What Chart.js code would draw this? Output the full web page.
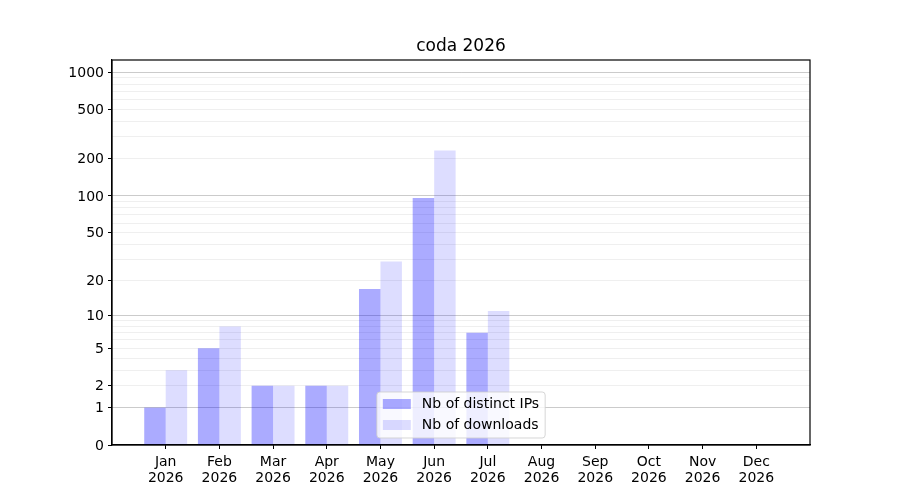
<!DOCTYPE html>
<html>
<head>
<meta charset="utf-8">
<title>coda 2026</title>
<script src="https://cdn.jsdelivr.net/npm/chart.js@4.4.1/dist/chart.umd.min.js"></script>
<style>
    html, body { margin: 0; padding: 0; background: #fff; }
    #wrap { width: 900px; height: 500px; }
</style>
</head>
<body>
<div id="wrap"><canvas id="chart"></canvas></div>
<script>
'use strict';

// Data
const months = ['Jan', 'Feb', 'Mar', 'Apr', 'May', 'Jun', 'Jul', 'Aug', 'Sep', 'Oct', 'Nov', 'Dec'];
const year = '2026';
const distinctIPs = [1, 5, 2, 2, 17, 96, 7, 0, 0, 0, 0, 0];
const downloads = [3, 8, 2, 2, 29, 233, 11, 0, 0, 0, 0, 0];
const yTickLabels = [0, 1, 2, 5, 10, 20, 50, 100, 200, 500, 1000];
const yMajorGrid = [1, 10, 100, 1000];
const yMinorGrid = [2, 3, 4, 5, 6, 7, 8, 9, 20, 30, 40, 50, 60, 70, 80, 90, 200, 300, 400, 500, 600, 700, 800, 900];
const yTopValue = 1252;
const titleText = 'coda 2026';

// y axis is log10(1 + v)
const tf = v => Math.log10(1 + v);

const allYTicks = Array.from(new Set([0].concat(yTickLabels, yMajorGrid, yMinorGrid))).sort((a, b) => a - b);

function toPoints(arr) {
    return arr.map((v, i) => ({ x: i, y: tf(v), raw: v }));
}

const font = "'DejaVu Sans', sans-serif";

// title over the plot area, frame round it and a matplotlib-like legend at lower center
const framePlugin = {
    id: 'frame',
    afterDraw(chart) {
        const ctx = chart.ctx;
        const a = chart.chartArea;
        ctx.save();

        // title
        ctx.font = '17px ' + font;
        ctx.fillStyle = '#000';
        ctx.textAlign = 'center';
        ctx.textBaseline = 'middle';
        ctx.fillText(titleText, (a.left + a.right) / 2, a.top - 13);

        // legend
        const items = chart.data.datasets;
        ctx.font = '14px ' + font;
        let tw = 0;
        items.forEach(d => { tw = Math.max(tw, ctx.measureText(d.label).width); });
        const pad = 6, patchW = 28, patchH = 10, gap = 11, rowH = 21;
        const w = pad + patchW + gap + tw + pad;
        const h = 46;
        const x0 = (a.left + a.right) / 2 - w / 2;
        const y0 = a.bottom - 7 - h;
        ctx.beginPath();
        ctx.roundRect(x0, y0, w, h, 3);
        ctx.fillStyle = 'rgba(255,255,255,0.8)';
        ctx.fill();
        ctx.strokeStyle = 'rgba(204,204,204,0.8)';
        ctx.lineWidth = 1;
        ctx.stroke();
        items.forEach((d, i) => {
            const cy = y0 + 12 + i * rowH;
            ctx.fillStyle = d.backgroundColor;
            ctx.fillRect(x0 + pad, cy - patchH / 2, patchW, patchH);
            ctx.fillStyle = '#000';
            ctx.textBaseline = 'middle';
            ctx.textAlign = 'left';
            ctx.fillText(d.label, x0 + pad + patchW + gap, cy);
        });

        // frame
        ctx.strokeStyle = '#000';
        ctx.lineWidth = 1.2;
        ctx.strokeRect(a.left, a.top, a.right - a.left, a.bottom - a.top);
        ctx.restore();
    }
};

const config = {
    type: 'bar',
    data: {
        datasets: [{
            label: 'Nb of distinct IPs',
            data: toPoints(distinctIPs),
            backgroundColor: 'rgba(0,0,255,0.33)',
            borderWidth: 0
        }, {
            label: 'Nb of downloads',
            data: toPoints(downloads),
            backgroundColor: 'rgba(0,0,255,0.135)',
            borderWidth: 0
        }]
    },
    options: {
        responsive: false,
        animation: false,
        devicePixelRatio: 1,
        layout: {
            padding: { left: 0, right: 90, top: 60, bottom: 0 }
        },
        plugins: {
            legend: { display: false },
            title: { display: false },
            tooltip: {
                callbacks: {
                    label: c => c.dataset.label + ': ' + c.raw.raw
                }
            }
        },
        datasets: {
            bar: {
                categoryPercentage: 0.8,
                barPercentage: 1.0
            }
        },
        scales: {
            x: {
                type: 'linear',
                min: -1,
                max: 12,
                offset: false,
                afterBuildTicks: s => {
                    s.ticks = months.map((m, i) => ({ value: i }));
                },
                afterFit: s => { s.height = 55; },
                grid: {
                    display: true,
                    offset: false,
                    drawOnChartArea: false,
                    tickLength: 4,
                    tickColor: '#000',
                    tickWidth: 1
                },
                border: { display: true, color: '#000', width: 1.2 },
                ticks: {
                    autoSkip: false,
                    maxRotation: 0,
                    padding: 5,
                    color: '#000',
                    font: { family: font, size: 14, lineHeight: 1.15 },
                    callback: v => [months[v], year]
                }
            },
            y: {
                type: 'linear',
                min: 0,
                max: tf(yTopValue),
                afterBuildTicks: s => {
                    s.ticks = allYTicks.map(v => ({ value: tf(v) }));
                },
                afterFit: s => { s.width = 112; },
                grid: {
                    tickLength: 4,
                    lineWidth: 1,
                    color: c => {
                        const v = allYTicks[c.index];
                        if (v === 0) return 'rgba(0,0,0,0)';
                        if (yMajorGrid.includes(v)) return '#cbcbcb';
                        return '#efefef';
                    },
                    tickColor: c => yTickLabels.includes(allYTicks[c.index]) ? '#000' : 'rgba(0,0,0,0)'
                },
                border: { display: true, color: '#000', width: 1.2 },
                ticks: {
                    autoSkip: false,
                    padding: 4,
                    labelOffset: 1,
                    color: '#000',
                    font: { family: font, size: 14 },
                    callback: (val, i) => {
                        const v = allYTicks[i];
                        return yTickLabels.includes(v) ? String(v) : '';
                    }
                }
            }
        }
    },
    plugins: [framePlugin]
};

const canvas = document.getElementById('chart');
canvas.width = 900;
canvas.height = 500;
new Chart(canvas.getContext('2d'), config);
</script>
</body>
</html>
